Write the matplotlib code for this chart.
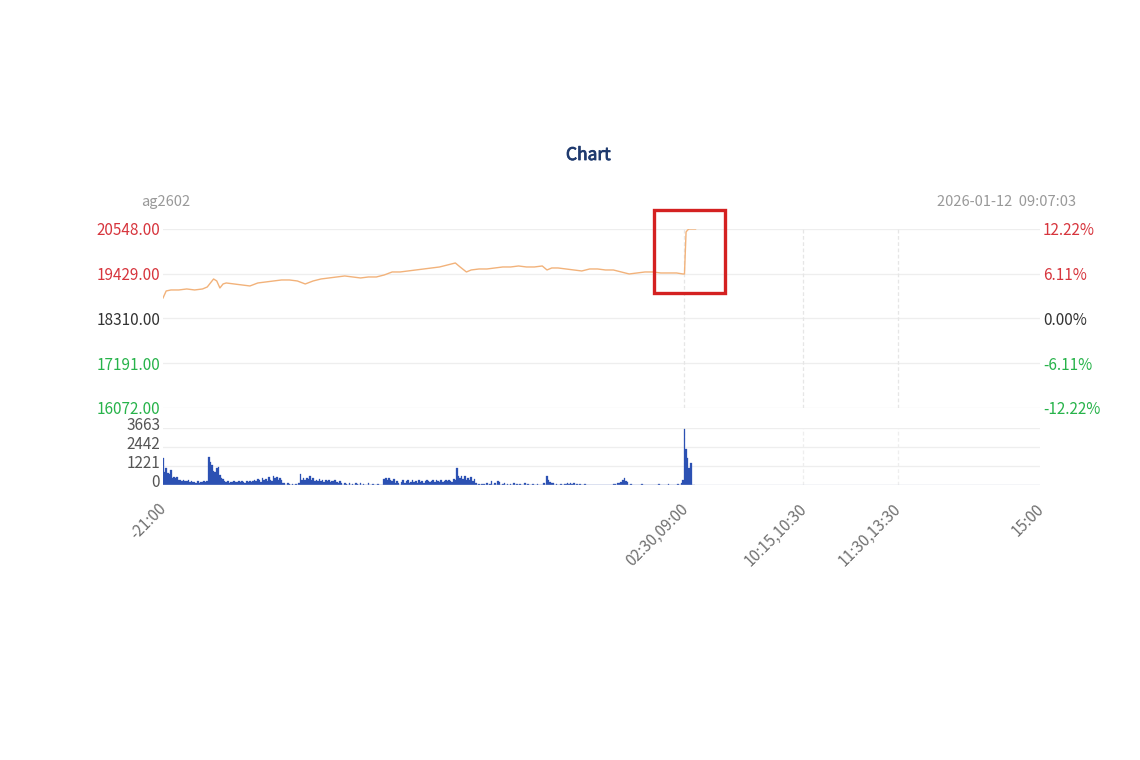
import matplotlib
matplotlib.use("Agg")
import matplotlib.pyplot as plt
import matplotlib.transforms as mtransforms
import matplotlib.patheffects as pe
from matplotlib.patches import Rectangle

plt.rcParams['font.family'] = ['Noto Sans CJK SC', 'DejaVu Sans']

# ---- data -------------------------------------------------------------
symbol = "ag2602"
timestamp = "2026-01-12  09:07:03"
pre_close = 18310
price_ticks = [16072, 17191, 18310, 19429, 20548]
volume_ticks = [0, 1221, 2442, 3663]

# session minutes: 21:00-02:30 (330), 09:00-10:15 (75), 10:30-11:30 (60), 13:30-15:00 (90)
session_total = 555
x_ticks = [0, 330, 405, 465, 555]
x_labels = ["-21:00", "02:30,09:00", "10:15,10:30", "11:30,13:30", "15:00"]

# price (minute index, price)
price_minutes = [0, 2, 5, 10, 15, 20, 25, 28, 30, 32, 34, 36, 38, 40, 45, 50, 55, 60,
                 65, 70, 75, 80, 85, 90, 95, 100, 105, 110, 115, 120, 125, 130, 135,
                 140, 145, 150, 155, 160, 165, 170, 175, 180, 185, 188, 192, 195, 200,
                 205, 210, 215, 220, 225, 230, 235, 240, 243, 246, 250, 255, 260, 265,
                 270, 275, 280, 285, 290, 295, 300, 305, 310, 315, 320, 325, 329, 330,
                 331, 332, 333, 335, 337]
price_values = [18823, 18998, 19023, 19023, 19048, 19023, 19048, 19098, 19198, 19298,
                19248, 19073, 19173, 19198, 19173, 19148, 19123, 19198, 19223, 19248,
                19273, 19273, 19248, 19173, 19248, 19298, 19323, 19348, 19373, 19348,
                19323, 19348, 19348, 19398, 19473, 19473, 19498, 19523, 19548, 19573,
                19598, 19648, 19698, 19598, 19473, 19523, 19548, 19548, 19573, 19598,
                19598, 19623, 19598, 19598, 19623, 19523, 19573, 19573, 19548, 19523,
                19498, 19548, 19548, 19523, 19523, 19473, 19423, 19448, 19473, 19473,
                19448, 19448, 19448, 19423, 19423, 20473, 20523, 20548, 20548, 20548]

# per-minute volume from 21:00 onwards
volume_values = [
    1740, 840, 1090, 770, 700, 960, 420, 500, 480, 520,
    350, 300, 260, 330, 280, 240, 310, 200, 260, 180,
    200, 160, 240, 150, 210, 180, 230, 170, 260, 1800,
    1480, 1290, 900, 860, 1090, 1160, 640, 430, 380, 260,
    200, 260, 150, 220, 180, 260, 200, 170, 240, 190,
    280, 200, 150, 230, 180, 260, 200, 280, 320, 240,
    400, 350, 200, 450, 300, 380, 250, 500, 330, 260,
    550, 420, 500, 300, 460, 350, 120, 100, 0, 140,
    80, 0, 60, 0, 90, 0, 110, 700, 330, 420,
    300, 480, 380, 580, 300, 420, 260, 330, 280, 360,
    250, 300, 220, 340, 260, 310, 200, 280, 240, 320,
    200, 150, 230, 100, 0, 120, 80, 0, 130, 0,
    90, 0, 110, 60, 0, 100, 0, 80, 0, 0,
    120, 0, 0, 90, 0, 0, 60, 0, 0, 0,
    380, 420, 300, 450, 350, 250, 400, 160, 260, 120,
    0, 200, 330, 150, 260, 300, 140, 220, 330, 180,
    260, 140, 310, 200, 280, 150, 240, 320, 250, 180,
    290, 330, 200, 350, 260, 220, 300, 180, 280, 320,
    250, 340, 260, 200, 380, 320, 1090, 600, 480, 560,
    400, 580, 300, 450, 350, 500, 280, 380, 160, 0,
    60, 0, 90, 50, 0, 120, 0, 80, 260, 0,
    100, 0, 250, 180, 0, 60, 120, 0, 90, 0,
    70, 0, 100, 0, 60, 0, 80, 0, 0, 110,
    0, 60, 0, 0, 90, 0, 0, 80, 0, 0,
    0, 120, 0, 580, 300, 200, 160, 120, 0, 80,
    0, 0, 60, 0, 90, 70, 120, 80, 150, 60,
    100, 0, 80, 0, 60, 0, 0, 50, 0, 0,
    0, 0, 0, 0, 0, 0, 0, 0, 0, 0,
    0, 0, 0, 0, 0, 60, 80, 0, 120, 150,
    200, 300, 420, 250, 180, 0, 80, 0, 0, 0,
    0, 0, 0, 60, 0, 0, 0, 0, 0, 0,
    0, 0, 0, 0, 60, 0, 0, 0, 0, 0,
    60, 0, 0, 0, 0, 0, 80, 0, 120, 300,
    3600, 2300, 1740, 1100, 1420, 0, 0,
]

# ---- style --------------------------------------------------------------
RED = "#d7353d"
GREEN = "#27b34a"
NEUTRAL = "#333333"
GRID = "#eeeeee"
LINE_COLOR = "#f2b27a"
BAR_COLOR = "#2c51b3"
TITLE_COLOR = "#1f3a6e"


def tick_color(p):
    if p > pre_close:
        return RED
    if p < pre_close:
        return GREEN
    return NEUTRAL


fig = plt.figure(figsize=(11.4, 7.6), dpi=100)
ax = fig.add_axes([0.143, 0.4632, 0.7693, 0.2355])
axv = fig.add_axes([0.143, 0.3618, 0.7693, 0.075])

# price panel
ax.plot(price_minutes, price_values, color=LINE_COLOR, lw=1.0)
ax.set_xlim(0, session_total)
ax.set_ylim(price_ticks[0], price_ticks[-1])
ax.set_yticks(price_ticks)
ax.set_yticklabels([f"{p:.2f}" for p in price_ticks], fontsize=11)
for lbl, p in zip(ax.get_yticklabels(), price_ticks):
    lbl.set_color(tick_color(p))
ax.tick_params(axis='y', length=0, pad=2)
ax.set_xticks([])
for s in ax.spines.values():
    s.set_visible(False)
for p in price_ticks:
    ax.axhline(p, color=GRID, lw=0.9, zorder=0)
for m in x_ticks[1:-1]:
    ax.axvline(m, color="#e6e6e6", lw=0.9, ls=(0, (3, 2)), zorder=0)

# right axis with percentages
ax2 = ax.twinx()
ax2.set_ylim(ax.get_ylim())
ax2.set_yticks(price_ticks)
ax2.set_yticklabels([f"{(p - pre_close) / pre_close * 100:.2f}%" for p in price_ticks],
                    fontsize=11)
for lbl, p in zip(ax2.get_yticklabels(), price_ticks):
    lbl.set_color(tick_color(p))
ax2.tick_params(axis='y', length=0, pad=2)
for s in ax2.spines.values():
    s.set_visible(False)

# highlight box around the opening jump
box_x0, box_x1 = 310.5, 355.5
box_y0, box_y1 = 18948, 21023
ax.add_patch(Rectangle((box_x0, box_y0), box_x1 - box_x0, box_y1 - box_y0,
                       fill=False, edgecolor="#d42121", lw=2.4, clip_on=False, zorder=5))

# volume panel
axv.bar(range(len(volume_values)), volume_values, width=1.0, color=BAR_COLOR,
        edgecolor=BAR_COLOR, lw=0.2)
axv.set_xlim(0, session_total)
axv.set_ylim(0, volume_ticks[-1])
axv.set_yticks(volume_ticks)
axv.set_yticklabels([str(v) for v in volume_ticks], fontsize=11, color="#555555")
axv.tick_params(axis='y', length=0, pad=2)
shift = mtransforms.ScaledTranslation(0, 0.045, fig.dpi_scale_trans)
for lbl in axv.get_yticklabels():
    lbl.set_transform(lbl.get_transform() + shift)
for s in axv.spines.values():
    s.set_visible(False)
for v in volume_ticks[1:]:
    axv.axhline(v, color=GRID, lw=0.9, zorder=0)
axv.axhline(0, color="#c9d0e0", lw=1.0, zorder=3)
for m in x_ticks[1:-1]:
    axv.axvline(m, color="#eeeeee", lw=0.9, ls=(0, (3, 2)), zorder=0)

axv.set_xticks(x_ticks)
axv.set_xticklabels(x_labels, fontsize=11, color="#707070", rotation=45,
                    ha='right', va='top', rotation_mode='anchor')
axv.tick_params(axis='x', length=0, pad=11)
xshift = mtransforms.ScaledTranslation(-0.05, 0, fig.dpi_scale_trans)
for lbl in axv.get_xticklabels():
    lbl.set_transform(lbl.get_transform() + xshift)

# header texts
fig.text(0.516, 1 - 155 / 760, "Chart", ha='center', va='center', fontsize=12.5,
         color=TITLE_COLOR,
         path_effects=[pe.withStroke(linewidth=0.6, foreground=TITLE_COLOR)])
fig.text(141 / 1140, 1 - 202 / 760, symbol, ha='left', va='center', fontsize=10.5,
         color="#999999")
fig.text(1076 / 1140, 1 - 202 / 760, timestamp, ha='right', va='center', fontsize=10.5,
         color="#999999")

fig.savefig("out.png", dpi=100, facecolor="white")
